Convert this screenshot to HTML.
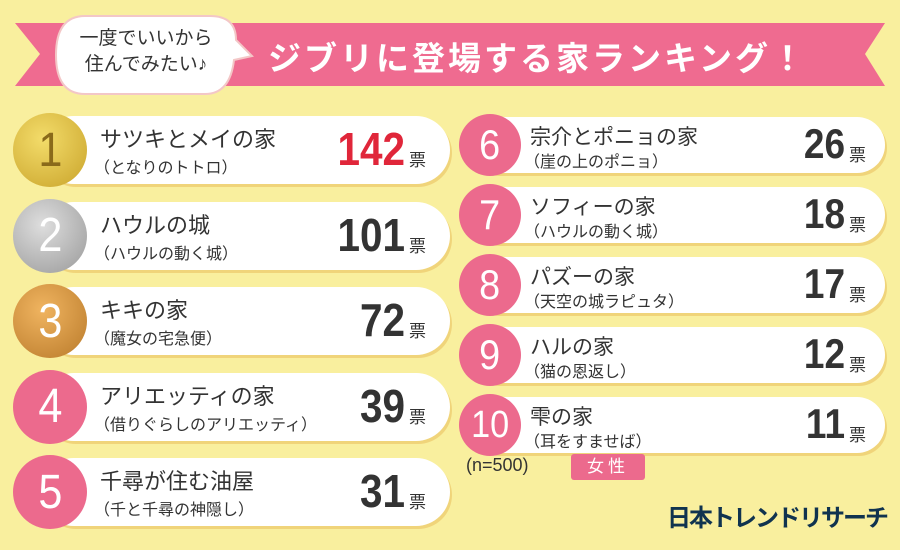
<!DOCTYPE html>
<html><head><meta charset="utf-8"><style>
body{margin:0;width:900px;height:550px;background:#f9ef9e;overflow:hidden;position:relative;font-family:"Liberation Sans","Noto Sans CJK JP",sans-serif}
.abs{position:absolute}
.pill{position:absolute;background:#fff;border-radius:40px;box-shadow:2px 3px 0 #f0d47a}
.circ{position:absolute;border-radius:50%;color:#fff;font-family:"Liberation Sans",sans-serif;display:flex;align-items:center;justify-content:center}
.circ span{display:inline-block;transform:scaleX(0.9)}
.name{position:absolute;color:#333;white-space:nowrap}
.sub{position:absolute;color:#333;white-space:nowrap}
.num{position:absolute;font-family:"Liberation Sans",sans-serif;font-weight:bold;color:#333;text-align:right;transform:scaleX(0.88);transform-origin:right center}
.hyo{position:absolute;color:#333;font-size:17px}
</style></head><body>
<svg class="abs" style="left:0;top:0" width="900" height="110">
<polygon points="15,23 885,23 865,54 885,86 15,86 40,54" fill="#ef6b90"/>
<path d="M85,16 H210 Q236,16 236,40 L252,56 L234,60 Q230,94 205,94 H85 Q56,94 56,55 Q56,16 85,16Z" fill="#fff" stroke="#f3c7c7" stroke-width="2"/>
</svg>
<div class="abs" style="left:66px;top:26px;font-size:19px;line-height:26px;color:#333;text-align:center;width:160px">一度でいいから<br>住んでみたい♪</div>
<div class="abs" style="left:268px;top:32px;font-size:33px;color:#fff;letter-spacing:3px;font-weight:bold">ジブリに登場する家ランキング！</div>
<div id="rows"></div>
<div class="abs" style="left:466px;top:455px;font-size:18px;color:#333">(n=500)</div>
<div class="abs" style="left:571px;top:454px;width:74px;height:26px;background:#ec6a8d;border-radius:3px;color:#fff;font-size:17px;text-align:center;line-height:26px;letter-spacing:4px">女性</div>
<div class="abs" style="left:667px;top:498px;font-size:24px;font-weight:bold;color:#10334f;letter-spacing:-2px;white-space:nowrap">日本トレンドリサーチ</div>
<script>
const ranks=[1,2,3,4,5,6,7,8,9,10];
const names=["サツキとメイの家","ハウルの城","キキの家","アリエッティの家","千尋が住む油屋","宗介とポニョの家","ソフィーの家","パズーの家","ハルの家","雫の家"];
const films=["（となりのトトロ）","（ハウルの動く城）","（魔女の宅急便）","（借りぐらしのアリエッティ）","（千と千尋の神隠し）","（崖の上のポニョ）","（ハウルの動く城）","（天空の城ラピュタ）","（猫の恩返し）","（耳をすませば）"];
const votes=[142,101,72,39,31,26,18,17,12,11];
const root=document.getElementById('rows');
const medal=["radial-gradient(circle at 40% 35%,#f3dc6a,#c9a32a)","radial-gradient(circle at 40% 35%,#dedede,#999)","radial-gradient(circle at 40% 35%,#f0b460,#b97a2a)"];
function mk(cls,css,txt,name){const d=document.createElement('div');d.className=cls;d.style.cssText=css;if(txt!==undefined)d.textContent=txt;


root.appendChild(d);return d;}
ranks.forEach((r,i)=>{
 const left=i<5;
 let cy,h,x0,x1,cx,rad,nx,numR,numFs;
 if(left){cy=150+i*85.5;h=68;x0=40;x1=450;cx=50;rad=37;nx=100;numR=405;numFs=46;}
 else{const j=i-5;cy=145+j*70;h=56;x0=470;x1=885;cx=490;rad=31;nx=530;numR=845;numFs=42;}
 mk('pill',`left:${x0}px;top:${cy-h/2}px;width:${x1-x0}px;height:${h}px`,undefined,'row-'+r);
 const bg=(left&&i<3)?medal[i]:'#ec6a8d';
 const c=mk('circ',`left:${cx-rad}px;top:${cy-rad}px;width:${rad*2}px;height:${rad*2}px;background:${bg};font-size:${r==10?38:(left?48:42)}px;${i==0?'color:#8a6a1a':''}`,undefined,'rank-badge-'+r);
 const s=document.createElement('span');s.textContent=String(r);c.appendChild(s);
 mk('name',`left:${nx}px;top:${cy-(left?28:24)}px;font-size:${left?22:21}px`,names[i],'house-name-'+r);
 mk('sub',`left:${nx-6}px;top:${cy+(left?4:3)}px;font-size:16px`,films[i],'film-'+r);
 mk('num',`left:${numR-150}px;width:150px;top:${cy-numFs*0.6}px;font-size:${numFs}px;${i==0?'color:#e0263a':''}`,String(votes[i]),'votes-'+r);
 mk('hyo',`left:${numR+4}px;top:${cy-4}px`,'票','unit-'+r);
});
</script>
</body></html>
